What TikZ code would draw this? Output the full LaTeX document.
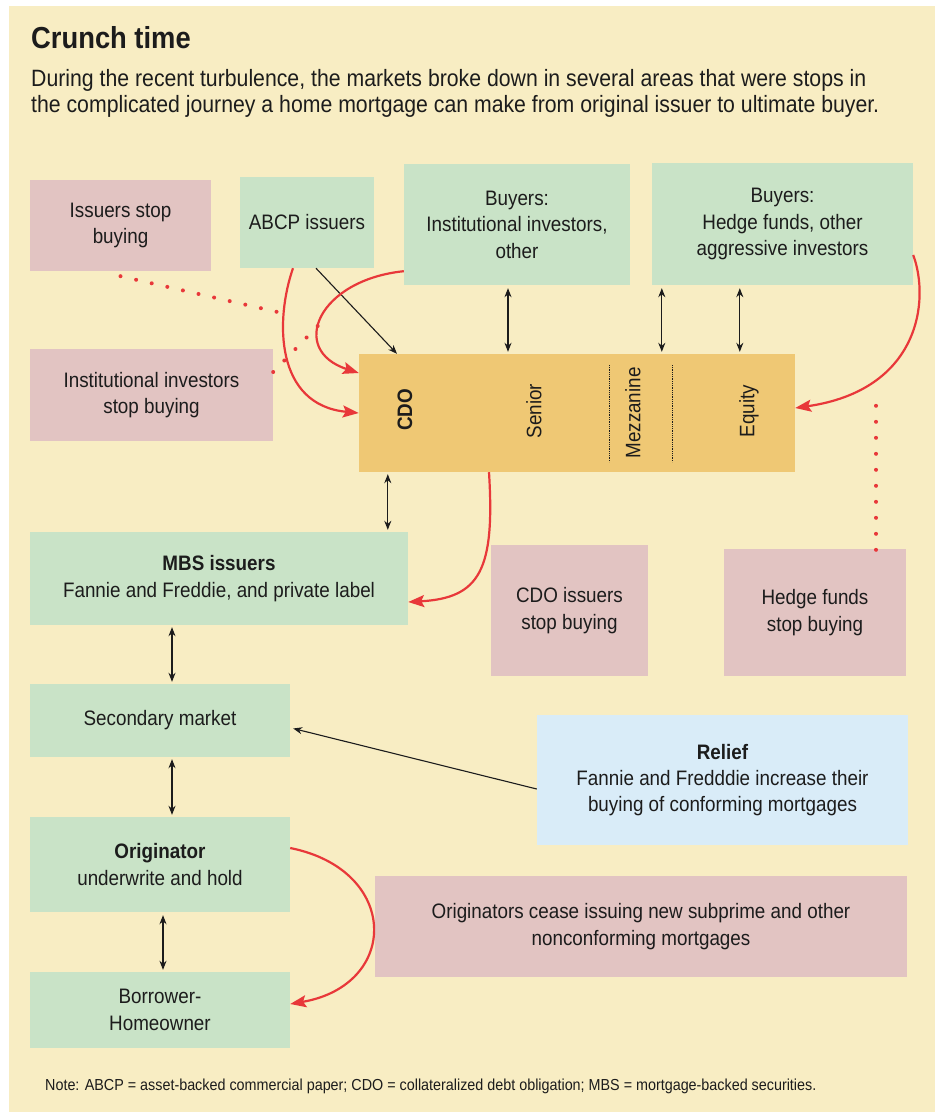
\documentclass[tikz,border=0pt]{standalone}
\usepackage{fontspec}
\setmainfont{Liberation Sans}[FakeStretch=0.9]
\usepackage{xcolor}
\usetikzlibrary{calc,arrows.meta,positioning}

\definecolor{paper}{RGB}{248,237,195}
\definecolor{mint}{RGB}{201,227,199}
\definecolor{rose}{RGB}{226,196,194}
\definecolor{cdoorange}{RGB}{239,200,116}
\definecolor{sky}{RGB}{217,236,248}
\definecolor{alarm}{RGB}{232,56,58}
\definecolor{ink}{RGB}{28,28,28}

\newcommand{\boxfont}{\fontsize{21}{26.5}\selectfont}
\newcommand{\titlefont}{\fontsize{30.5}{33}\selectfont\bfseries}
\newcommand{\leadfont}{\fontsize{23.7}{27}\selectfont}
\newcommand{\notefont}{\fontsize{16}{18}\selectfont}

\begin{document}
\begin{tikzpicture}[x=1bp, y=-1bp, >={Stealth[length=9bp,width=7bp]},
  redline/.style={draw=alarm, line width=2.2bp, -{Stealth[length=16bp,width=12bp,inset=3bp]}},
  reddots/.style={draw=alarm, line width=4bp, line cap=round, dash pattern=on 0bp off 16bp},
  thinline/.style={draw=ink, line width=1.1bp},
  plaintext/.style={anchor=base west, inner sep=0pt, text=ink}]
% Define styles for the boxes
\tikzstyle{block} = [rectangle, inner sep=0pt, align=center, text=ink, font=\boxfont]
\tikzstyle{greenblock} = [block, fill=mint]
\tikzstyle{pinkblock} = [block, fill=rose]
\tikzstyle{tranche} = [rotate=90, text=ink, font=\boxfont]

% Page and background
\useasboundingbox (0,0) rectangle (935,1112);
\fill[white] (0,0) rectangle (935,1112);
\fill[paper] (9,6) rectangle (935,1112);

% Heading
\node[plaintext, font=\titlefont] (title) at (31,48) {Crunch time};
\node[plaintext, font=\leadfont] (lead1) at (31,86) {During the recent turbulence, the markets broke down in several areas that were stops in};
\node[plaintext, font=\leadfont] (lead2) at (31,112) {the complicated journey a home mortgage can make from original issuer to ultimate buyer.};

% Nodes placement
\node [pinkblock, minimum width=181bp, minimum height=91bp] (issstop) at (120.5,225.5) {Issuers stop\\buying};
\node [greenblock, minimum width=134bp, minimum height=91bp] (abcp) at (307,222.5) {ABCP issuers};
\node [greenblock, minimum width=226bp, minimum height=121bp] (buyinst) at (517,224.5) {Buyers:\\Institutional investors,\\other};
\node [greenblock, minimum width=261bp, minimum height=122bp] (buyhedge) at (782.5,224) {Buyers:\\Hedge funds, other\\aggressive investors};
\node [pinkblock, minimum width=243bp, minimum height=92bp] (inststop) at (151.5,395) {Institutional investors\\stop buying};
\node [block, fill=cdoorange, minimum width=436bp, minimum height=118bp] (cdo) at (577,413) {};
\node [tranche, font=\boxfont\bfseries] (cdolabel) at (405,410) {CDO};
\node [tranche] (senior) at (534,411) {Senior};
\node [tranche] (mezz) at (633,413) {Mezzanine};
\node [tranche] (equity) at (749,411) {Equity};
\node [greenblock, minimum width=378bp, minimum height=93bp] (mbs) at (219,578.5) {\textbf{MBS issuers}\\Fannie and Freddie, and private label};
\node [pinkblock, minimum width=157bp, minimum height=131bp] (cdostop) at (569.5,610.5) {CDO issuers\\stop buying};
\node [pinkblock, minimum width=182bp, minimum height=127bp] (hedgestop) at (815,612.5) {Hedge funds\\stop buying};
\node [greenblock, minimum width=260bp, minimum height=73bp] (secondary) at (160,720.5) {Secondary market};
\node [block, fill=sky, minimum width=371bp, minimum height=130bp] (relief) at (722.5,780) {\textbf{Relief}\\Fannie and Fredddie increase their\\buying of conforming mortgages};
\node [greenblock, minimum width=260bp, minimum height=95bp, below of=secondary, node distance=144bp] (originator) {\textbf{Originator}\\underwrite and hold};
\node [pinkblock, minimum width=532bp, minimum height=101bp] (origstop) at (641,926.5) {Originators cease issuing new subprime and other\\nonconforming mortgages};
\node [greenblock, minimum width=260bp, minimum height=76bp, below of=originator, node distance=145.5bp] (borrower) {Borrower-\\Homeowner};
\node [plaintext, font=\notefont] (note) at (45,1090) {Note: ABCP = asset-backed commercial paper; CDO = collateralized debt obligation; MBS = mortgage-backed securities.};

% Tranche dividers
\draw[ink, line width=0.8bp, densely dotted] (609,365) -- (609,462);
\draw[ink, line width=0.8bp, densely dotted] (672,365) -- (672,462);

% Draw edges
\draw[thinline,<->] ([xshift=-9bp,yshift=-3bp]buyinst.south) -- ([xshift=-9bp,yshift=2bp]buyinst.south |- cdo.north);
\draw[thinline,<->] ([xshift=10bp,yshift=-3bp]buyhedge.south west) -- ([xshift=10bp,yshift=2bp]buyhedge.south west |- cdo.north);
\draw[thinline,<->] ([xshift=88bp,yshift=-3bp]buyhedge.south west) -- ([xshift=88bp,yshift=2bp]buyhedge.south west |- cdo.north);
\draw[thinline,<->] ([xshift=29bp,yshift=-2bp]cdo.south west) -- ([xshift=29bp,yshift=2bp]cdo.south west |- mbs.north);
\draw[thinline,<->] ([xshift=12bp,yshift=-2bp]mbs.south west -| secondary.north) -- ([xshift=12bp,yshift=2bp]secondary.north);
\draw[thinline,<->] ([xshift=12bp,yshift=-2bp]secondary.south) -- ([xshift=12bp,yshift=2bp]originator.north);
\draw[thinline,<->] ([xshift=3bp,yshift=-3bp]originator.south) -- ([xshift=3bp,yshift=2bp]borrower.north);
\draw[thinline,->] ([xshift=9bp]abcp.south) -- ([xshift=-180bp]cdo.north);
\draw[thinline,->] ([yshift=-9bp]relief.west) -- ([xshift=3bp,yshift=-8bp]secondary.east);

% Red flows into the CDO and on
\draw[redline] ([xshift=-14bp]abcp.south) .. controls (275,320) and (275,405) .. coordinate[pos=0.26] (abcpmeet) (cdo.west);
\draw[redline] ([yshift=14bp]buyinst.south west) .. controls (318,280) and (288,350) .. coordinate[pos=0.55] (instmeet) ([yshift=40bp]cdo.west);
\draw[redline] ([yshift=-31bp]buyhedge.east) .. controls (930,300) and (920,390) .. coordinate[pos=0.72] (hedgemeet) ([yshift=5bp]cdo.east);
\draw[redline] ([xshift=-88bp]cdo.south) .. controls (495,570) and (480,598) .. ([yshift=-23.5bp]mbs.east);
\draw[redline] ([yshift=16.5bp]originator.east) .. controls (400,870) and (400,985) .. ([yshift=6bp]borrower.east);

% Dotted breaks
\coordinate (hedgetop) at ([xshift=61bp,yshift=-1bp]hedgestop.north);
\draw[reddots] ([yshift=-5bp]issstop.south) -- (abcpmeet);
\draw[reddots] ([yshift=23bp]inststop.east) -- (instmeet);
\draw[reddots] (hedgetop) -- ([yshift=-16bp]hedgetop |- hedgemeet);

\end{tikzpicture}
\end{document}
